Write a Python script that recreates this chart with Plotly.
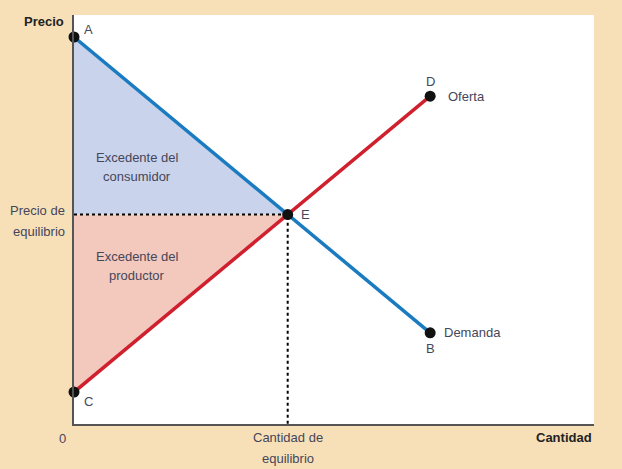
import plotly.graph_objects as go

# Data
demand_q = [0, 5]
demand_p = [11, 2.667]
supply_q = [0, 5]
supply_p = [1, 9.333]
eq_q = 3
eq_p = 6
point_labels = ["A", "B", "C", "D", "E"]
point_q = [0, 5, 0, 5, 3]
point_p = [11, 2.667, 1, 9.333, 6]

BG = "#F7E0B8"
BLUE = "#1B7BC1"
RED = "#D0202E"
FONT = "Liberation Sans Narrow, Arial Narrow, Liberation Sans, sans-serif"
TXT = "#45465a"

fig = go.Figure()

# Consumer surplus
fig.add_trace(go.Scatter(x=[0, eq_q, 0, 0], y=[demand_p[0], eq_p, eq_p, demand_p[0]],
                         fill="toself", fillcolor="#C9D3EC", line=dict(width=0),
                         mode="lines", hoverinfo="skip", showlegend=False))
# Producer surplus
fig.add_trace(go.Scatter(x=[0, eq_q, 0, 0], y=[supply_p[0], eq_p, eq_p, supply_p[0]],
                         fill="toself", fillcolor="#F3C9BD", line=dict(width=0),
                         mode="lines", hoverinfo="skip", showlegend=False))
# Dotted guide lines
fig.add_trace(go.Scatter(x=[0, eq_q, eq_q], y=[eq_p, eq_p, 0.1], mode="lines",
                         line=dict(color="black", width=2, dash="dot"),
                         hoverinfo="skip", showlegend=False))
# Demand and supply
fig.add_trace(go.Scatter(x=demand_q, y=demand_p, mode="lines",
                         line=dict(color=BLUE, width=3.5), showlegend=False))
fig.add_trace(go.Scatter(x=supply_q, y=supply_p, mode="lines",
                         line=dict(color=RED, width=3.5), showlegend=False))
# Points
fig.add_trace(go.Scatter(x=point_q, y=point_p, mode="markers",
                         marker=dict(color="#111111", size=11), cliponaxis=False,
                         showlegend=False))

ann = []
def a(x, y, text, xref="x", yref="y", xanchor="center", yanchor="middle",
      xshift=0, yshift=0, size=13, bold=False, color=TXT, align="center"):
    ann.append(dict(x=x, y=y, xref=xref, yref=yref, text=("<b>%s</b>" % text) if bold else text,
                    showarrow=False, xanchor=xanchor, yanchor=yanchor, xshift=xshift,
                    yshift=yshift, align=align, font=dict(family=FONT, size=size, color=color)))

a(0, 11, "A", xanchor="left", xshift=8, yshift=8)
a(5, 2.667, "B", yshift=-16)
a(0, 1, "C", xanchor="left", xshift=8, yshift=-9)
a(5, 9.333, "D", yshift=15)
a(3, 6, "E", xanchor="left", xshift=11)
a(5, 9.333, "Oferta", xanchor="left", xshift=16)
a(5, 2.667, "Demanda", xanchor="left", xshift=12)
a(0.885, 7.62, "Excedente del")
a(0.885, 7.06, "consumidor")
a(0.885, 4.83, "Excedente del")
a(0.885, 4.27, "productor")
a(0, 11.62, "Precio", xanchor="right", yanchor="middle", xshift=-8, yshift=-6, bold=True, color="#222222")
a(0, 6, "Precio de", xanchor="right", xshift=-7, yshift=4)
a(0, 6, "equilibrio", xanchor="right", xshift=-7, yshift=-17)
a(0, 0.1, "0", xanchor="center", yanchor="top", xshift=-12, yshift=-5)
a(3, 0.1, "Cantidad de", yanchor="top", yshift=-4)
a(3, 0.1, "equilibrio", yanchor="top", yshift=-25)
a(7.3, 0.1, "Cantidad", xanchor="right", yanchor="top", yshift=-4, bold=True, color="#222222")

fig.update_layout(
    width=622, height=469,
    margin=dict(l=74, r=28, t=15, b=45),
    paper_bgcolor=BG, plot_bgcolor="white",
    annotations=ann,
    xaxis=dict(range=[0, 7.3], showgrid=False, zeroline=False, showticklabels=False,
               ticks="", showline=True, linecolor="#555555", linewidth=2, fixedrange=True),
    yaxis=dict(range=[0.1, 11.62], showgrid=False, zeroline=False, showticklabels=False,
               ticks="", showline=True, linecolor="#555555", linewidth=2, fixedrange=True),
)

fig.write_html("out.html", config={"displayModeBar": False},
               post_script="document.body.style.margin='0';")
